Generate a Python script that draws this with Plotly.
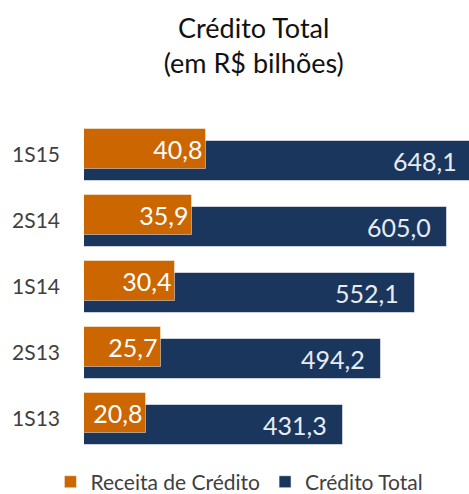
import plotly.graph_objects as go

categories = ['1S13', '2S13', '1S14', '2S14', '1S15']
receita_credito = [20.8, 25.7, 30.4, 35.9, 40.8]
credito_total = [431.3, 494.2, 552.1, 605.0, 648.1]

FONT = "Lato"
ORANGE = "#CC6600"
NAVY = "#1B365D"

fig = go.Figure()

fig.add_trace(go.Bar(
    name="Crédito Total",
    y=categories, x=credito_total, orientation="h",
    xaxis="x", yaxis="y",
    marker=dict(color=NAVY, line=dict(color="rgba(255,255,255,0.55)", width=1)),
    width=0.62, offset=-0.401,
    texttemplate="%{x:.1f}\u00a0\u00a0",
    textposition="inside", insidetextanchor="end", constraintext="none",
    textfont=dict(family=FONT, size=25, color="#e8ecf2"),
    legendrank=2, hoverinfo="skip",
))

fig.add_trace(go.Bar(
    name="Receita de Crédito",
    y=categories, x=receita_credito, orientation="h",
    xaxis="x2", yaxis="y",
    marker=dict(color=ORANGE, line=dict(color="rgba(255,255,255,0.45)", width=1)),
    width=0.62, offset=-0.219,
    texttemplate="%{x:.1f}",
    textposition="inside", insidetextanchor="end", constraintext="none",
    textfont=dict(family=FONT, size=25, color="#ffffff"),
    legendrank=1, hoverinfo="skip",
))

fig.update_layout(
    width=469, height=494,
    margin=dict(l=84, r=0, t=122, b=42, autoexpand=False),
    paper_bgcolor="white", plot_bgcolor="white",
    separators=",.",
    font=dict(family=FONT, color="#404040"),
    title=dict(
        text="Crédito Total<br>(em R$ bilhões)",
        x=0.541, xanchor="center", xref="container",
        y=0.924, yanchor="top", yref="container",
        font=dict(family=FONT, size=27, color="#111111"),
    ),
    xaxis=dict(range=[0, 641.7], visible=False, fixedrange=True),
    xaxis2=dict(range=[0, 128.3], visible=False, overlaying="x", fixedrange=True),
    yaxis=dict(
        type="category", categoryorder="array", categoryarray=categories,
        showgrid=False, zeroline=False, showline=False, ticks="",
        tickfont=dict(family=FONT, size=21, color="#404040"),
        ticklabelstandoff=23, automargin=False, fixedrange=True,
    ),
    showlegend=True,
    legend=dict(
        orientation="h", xref="container", yref="paper",
        x=0.5105, xanchor="center", y=-0.029, yanchor="top",
        font=dict(family=FONT, size=21, color="#404040"),
        traceorder="normal",
    ),
    bargap=0,
)

fig.write_html("out.html", config={"displayModeBar": False},
               post_script="document.body.style.margin='0';")
